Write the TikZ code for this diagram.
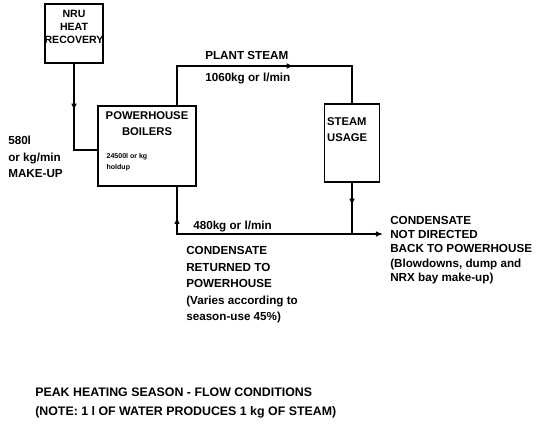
\documentclass[tikz,border=0pt]{standalone}
\usepackage{fontspec}
\setmainfont{Liberation Sans}
\usetikzlibrary{positioning,calc,arrows.meta,decorations.markings}
\tikzset{
  unit box/.style={
    rectangle, draw=black, line width=0.9pt,
    inner sep=0pt,
  },
  box label/.style={
    inner sep=0pt, align=#1,
    font=\bfseries\fontsize{8}{11.3}\selectfont,
  },
  flow label/.style={
    inner sep=0pt, align=left, anchor=north west,
    font=\bfseries\fontsize{8.3}{#1}\selectfont,
  },
  flow line/.style={line width=0.9pt},
  mid arrow/.style={
    postaction={decorate},
    decoration={markings,
      mark=at position #1 with {\arrow{Latex[length=5pt,width=4pt]}}},
  },
}

\begin{document}
\begin{tikzpicture}[x=0.025cm, y=-0.025cm]
\useasboundingbox (0,0) rectangle (537,424);

% --- units ---
\node[unit box, minimum width=1.45cm, minimum height=1.475cm]
  (nru) at (74,33.5) {};
\node[box label=center, anchor=north, font=\bfseries\fontsize{7.5}{9.2}\selectfont]
  (nrutext) at ([yshift=-0.175cm]nru.north) {NRU\\HEAT\\RECOVERY};

\node[unit box, minimum width=2.45cm, minimum height=2cm]
  (boilers) at (147,146) {};
\node[box label=center, anchor=north]
  (boilertext) at ([yshift=-0.15cm]boilers.north) {POWERHOUSE\\BOILERS};
\node[box label=left, anchor=north west, font=\bfseries\fontsize{5}{7.8}\selectfont]
  (holdup) at ([xshift=0.225cm, yshift=-1.2cm]boilers.north west) {24500l or kg\\holdup};

\node[unit box, minimum width=1.375cm, minimum height=1.95cm]
  (usage) at (352,143) {};
\node[box label=left, anchor=north west]
  (usagetext) at ([xshift=0.075cm, yshift=-0.35cm]usage.north west) {STEAM\\USAGE};

% --- flows ---
\coordinate (junc) at (usage.south |- 0,234);
\coordinate (outlet) at (383,234);

\draw[flow line, mid arrow=1.175cm] (nru.south) |- ([yshift=-0.1cm]boilers.west);
\draw[flow line, mid arrow=3.9cm]
  ([xshift=0.75cm]boilers.north) -- ([xshift=0.75cm]boilers.north |- 0,66) -| (usage.north);
\draw[flow line, mid arrow=0.575cm] (usage.south) -- (junc);
\draw[flow line, mid arrow=4.8cm] (junc) -| ([xshift=0.75cm]boilers.south);
\draw[flow line, -{Latex[length=5pt,width=4pt]}] (junc) -- (outlet);

% --- labels ---
\node[flow label=11.7] (makeup) at (8,136) {580l\\or kg/min\\MAKE-UP};
\node[flow label=11.7] (plantsteam) at (205,51) {PLANT STEAM};
\node[flow label=11.7] (steamrate) at (205,73) {1060kg or l/min};
\node[flow label=11.7] (returnrate) at (193,221) {480kg or l/min};
\node[flow label=11.8] (returned) at (186,246)
  {CONDENSATE\\RETURNED TO\\POWERHOUSE\\(Varies according to\\season-use 45\%)};
\node[flow label=10.1] (lost) at (390,216)
  {CONDENSATE\\NOT DIRECTED\\BACK TO POWERHOUSE\\(Blowdowns, dump and\\NRX bay make-up)};

% --- caption ---
\node[flow label=13.5, font=\bfseries\fontsize{8.8}{13.5}\selectfont] (caption) at (35,388)
  {PEAK HEATING SEASON - FLOW CONDITIONS\\(NOTE: 1 l OF WATER PRODUCES 1 kg OF STEAM)};

\end{tikzpicture}
\end{document}
